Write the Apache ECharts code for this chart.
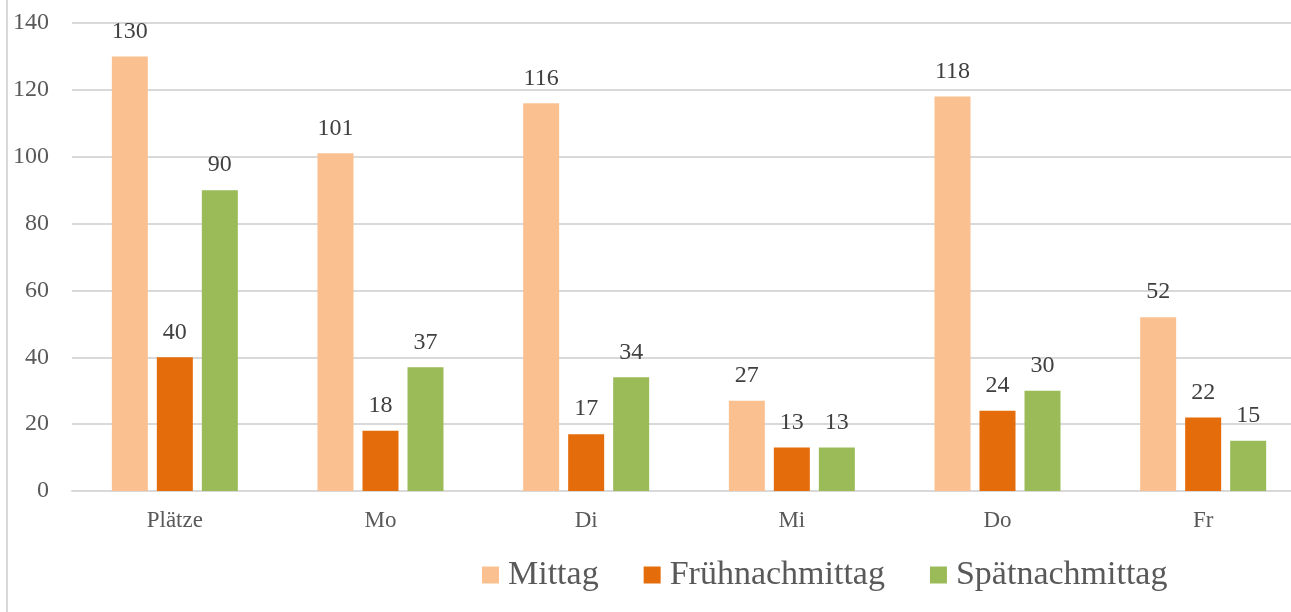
<!DOCTYPE html>
<html>
    <head>
        <meta charset="UTF-8" />
        <script src="https://cdn.jsdelivr.net/npm/echarts@6/dist/echarts.min.js"></script>
    </head>
    <body style="margin:0; overflow:hidden">
        <div id="main" style="width: 1320px; height: 612px"></div>
        <script type="text/javascript">
            var categories = ['Plätze', 'Mo', 'Di', 'Mi', 'Do', 'Fr'];
            var mittag = [130, 101, 116, 27, 118, 52];
            var fruehnachmittag = [40, 18, 17, 13, 24, 22];
            var spaetnachmittag = [90, 37, 34, 13, 30, 15];

            var chartDom = document.getElementById('main');
            var myChart = echarts.init(chartDom);
            var font = 'Liberation Serif';

            // Beschriftung über den Balken
            var labelStyle = {
                show: true,
                position: 'top',
                distance: 13,
                color: '#404040',
                fontFamily: font,
                fontSize: 24
            };

            var option = {
                animation: false,
                backgroundColor: '#fff',
                grid: {
                    left: 72,
                    top: 23,
                    width: 1234,
                    height: 468
                },
                legend: {
                    top: 558,
                    left: 482,
                    padding: 0,
                    itemWidth: 17,
                    itemHeight: 17,
                    itemGap: 45,
                    icon: 'rect',
                    textStyle: {
                        color: '#595959',
                        fontFamily: font,
                        fontSize: 34,
                        padding: [0, 0, 0, 4]
                    },
                    data: ['Mittag', 'Frühnachmittag', 'Spätnachmittag']
                },
                xAxis: {
                    type: 'category',
                    data: categories,
                    axisLine: { lineStyle: { color: '#d9d9d9', width: 2 } },
                    axisTick: { show: false },
                    axisLabel: {
                        color: '#595959',
                        fontFamily: font,
                        fontSize: 23,
                        margin: 18
                    }
                },
                yAxis: {
                    type: 'value',
                    min: 0,
                    max: 140,
                    interval: 20,
                    axisLine: { show: false },
                    axisTick: { show: false },
                    splitLine: { lineStyle: { color: '#d9d9d9', width: 2 } },
                    axisLabel: {
                        color: '#595959',
                        fontFamily: font,
                        fontSize: 24,
                        margin: 23
                    }
                },
                series: [
                    {
                        name: 'Mittag',
                        type: 'bar',
                        barWidth: 36,
                        barGap: '25%',
                        itemStyle: { color: '#fac090' },
                        label: labelStyle,
                        data: mittag
                    },
                    {
                        name: 'Frühnachmittag',
                        type: 'bar',
                        barWidth: 36,
                        barGap: '25%',
                        itemStyle: { color: '#e46c0a' },
                        label: labelStyle,
                        data: fruehnachmittag
                    },
                    {
                        name: 'Spätnachmittag',
                        type: 'bar',
                        barWidth: 36,
                        barGap: '25%',
                        itemStyle: { color: '#9bbb59' },
                        label: labelStyle,
                        data: spaetnachmittag
                    }
                ],
                graphic: [
                    {
                        type: 'line',
                        shape: { x1: 7, y1: 0, x2: 7, y2: 612 },
                        style: { stroke: '#d9d9d9', lineWidth: 2 }
                    }
                ]
            };

            option && myChart.setOption(option);
        </script>
    </body>
</html>
